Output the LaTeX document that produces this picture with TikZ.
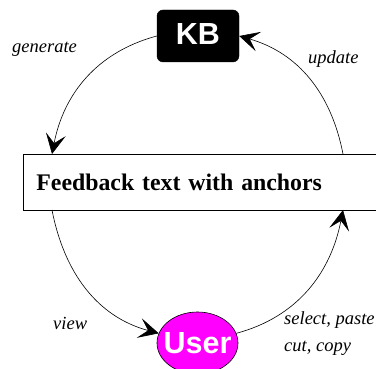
\documentclass[tikz,border=0pt]{standalone}
\usepackage{fontspec}
\setmainfont{Liberation Serif}
\newfontfamily\helv{Liberation Sans}
\usetikzlibrary{arrows.meta,shapes.geometric}
\definecolor{usermag}{RGB}{255,0,255}
\tikzset{
  conn/.style={line width=0.6pt, -{Stealth[length=20pt,width=20pt,inset=9pt]}},
  lbl/.style={font=\fontsize{18.5pt}{20pt}\selectfont\itshape, inner sep=0pt, anchor=base west},
  bigsans/.style={font=\helv\bfseries\fontsize{30.5pt}{32pt}\selectfont, text=white},
}
\begin{document}
\begin{tikzpicture}[x=1pt,y=1pt]
\clip (0,0) rectangle (376,369);
\useasboundingbox (0,0) rectangle (376,369);
\fill[white] (0,0) rectangle (376,369);
\node[draw, fill=black, rounded corners=6pt, minimum width=82pt, minimum height=52pt, inner sep=0pt] (KB) at (198,333) {};
\node[bigsans, anchor=base, inner sep=0pt] (KBt) at (198,324) {KB};
\node[draw, line width=0.8pt, anchor=west, minimum width=365pt, minimum height=56pt, text width=339pt, align=left, inner sep=13pt, font=\fontsize{23.8pt}{26pt}\selectfont\bfseries] (fb) at (23,187) {Feedback text with anchors};
\node[draw, ellipse, fill=usermag, line width=0.6pt, minimum width=81pt, minimum height=62pt, inner sep=0pt] (User) at (197.5,26) {};
\node[bigsans, anchor=base, inner sep=0pt] (Usert) at (197.5,15) {User};
\coordinate (fbTL) at (52,215);
\coordinate (fbTR) at (343,215);
\coordinate (fbBL) at (52,159);
\coordinate (fbBR) at (343,159);
\draw[conn] (KB.west) to[out=195,in=79] (fbTL);
\draw[conn] (fbTR) to[out=101,in=-16] (KB.east);
\draw[conn] (fbBL) to[out=281,in=165] (User.166);
\draw[conn] (User.14) to[out=15,in=259] (fbBR);
\node[lbl] (gen) at (12,316) {generate};
\node[lbl] (upd) at (308,305) {update};
\node[lbl] (view) at (53,39) {view};
\node[lbl] (sel) at (284,44) {select, paste};
\node[lbl] (cut) at (284,17) {cut, copy};
\end{tikzpicture}
\end{document}
